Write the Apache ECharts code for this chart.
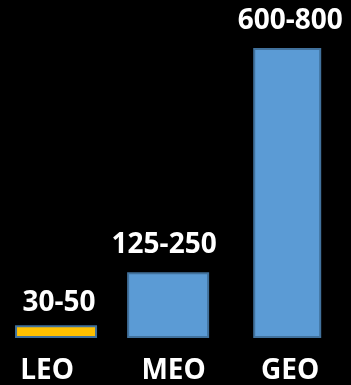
<!DOCTYPE html>
<html>
<head>
<meta charset="utf-8">
<script src="https://cdn.jsdelivr.net/npm/echarts@6/dist/echarts.min.js"></script>
<style>
html,body{margin:0;padding:0;background:#000;}
#chart{width:351px;height:385px;}
</style>
</head>
<body>
<div id="chart"></div>
<script>
var categories = ['LEO', 'MEO', 'GEO'];
var values = [31, 159, 700];
var rangeLabels = ['30-50', '125-250', '600-800'];

var FONT = '"Open Sans", "Noto Sans", sans-serif';
var BLUE = '#5B9BD5';
var BORDER = '#41719C';
var GOLD = '#FFC000';

var labelOffsets = [[3, 0], [-4, 0], [3, 0]];
var labelDistances = [8, 13, 13];
var catPad = {LEO: [0, 18, 0, 0], MEO: [0, 0, 0, 11], GEO: [0, 0, 0, 20]};

function item(i) {
  return {
    value: values[i],
    itemStyle: i === 0 ? {color: GOLD} : undefined,
    label: {offset: labelOffsets[i], distance: labelDistances[i]}
  };
}

var chart = echarts.init(document.getElementById('chart'), null, {renderer: 'canvas'});
var rich = {};
categories.forEach(function (c) {
  rich[c] = {color: '#fff', fontFamily: FONT, fontWeight: 'bold', fontSize: 28, padding: catPad[c]};
});
var barLabel = {
  show: true, position: 'top', color: '#fff', fontFamily: FONT, fontWeight: 'bold', fontSize: 28,
  formatter: function (p) { return rangeLabels[p.dataIndex]; }
};
chart.setOption({
  backgroundColor: '#000',
  animation: false,
  grid: {left: -1.25, width: 337.5, top: 48, bottom: 47, containLabel: false},
  xAxis: {
    type: 'category', data: categories,
    axisLine: {show: false}, axisTick: {show: false}, splitLine: {show: false},
    axisLabel: {
      margin: 19, interval: 0,
      formatter: function (v) { return '{' + v + '|' + v + '}'; },
      rich: rich
    }
  },
  yAxis: {type: 'value', min: 0, max: 700, show: false, splitLine: {show: false}},
  series: [
    {
      type: 'bar', barWidth: 82, barGap: '-82.93%',
      itemStyle: {color: BLUE, borderColor: BORDER, borderWidth: 2},
      label: barLabel,
      data: [item(0), item(1), '-']
    },
    {
      type: 'bar', barWidth: 68, barGap: '-82.93%',
      itemStyle: {color: BLUE, borderColor: BORDER, borderWidth: 2},
      label: barLabel,
      data: ['-', '-', item(2)]
    }
  ]
});
</script>
</body>
</html>
